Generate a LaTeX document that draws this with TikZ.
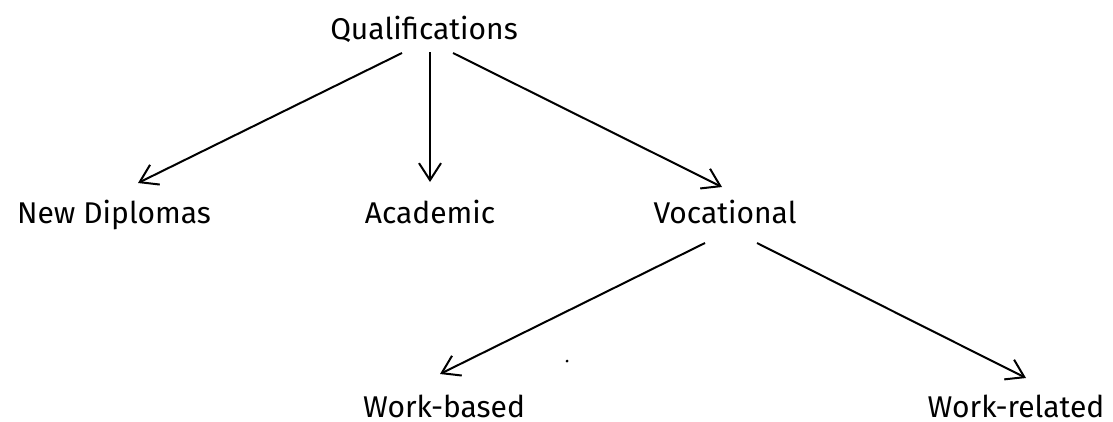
\documentclass[tikz,border=0pt]{standalone}
\usepackage{fontspec}
\setmainfont{Fira Sans}
\usetikzlibrary{arrows.meta}

\tikzset{
	lbl/.style={anchor=base, inner sep=0pt, font=\fontsize{30}{35}\selectfont},
	link/.style={line width=2pt, -{Straight Barb[length=17pt, width=22pt, line width=2pt]}}
}

\begin{document}
\begin{tikzpicture}[x=1pt, y=1pt]
		\useasboundingbox (0,0) rectangle (1113,-421);

		\node[lbl] (qual) at (424,-39) {Qualifications};
		\node[lbl] (dipl) at (114,-223) {New Diplomas};
		\node[lbl] (acad) at (430,-223) {Academic};
		\node[lbl] (voc) at (725,-223) {Vocational};
		\node[lbl] (wbased) at (444,-417) {Work-based};
		\node[lbl] (wrel) at (1016,-417) {Work-related};

		\draw[link] ([xshift=-22pt, yshift=-14pt]qual.base) -- ([xshift=24pt, yshift=40pt]dipl.base);
		\draw[link] ([xshift=6pt, yshift=-13pt]qual.base) -- ([yshift=41pt]acad.base);
		\draw[link] ([xshift=29pt, yshift=-14pt]qual.base) -- ([xshift=-3pt, yshift=36pt]voc.base);
		\draw[link] ([xshift=-20pt, yshift=-20pt]voc.base) -- ([xshift=-4pt, yshift=43pt]wbased.base);
		\draw[link] ([xshift=32pt, yshift=-20pt]voc.base) -- ([xshift=10pt, yshift=39pt]wrel.base);

		\fill (567,-361) circle (1.5pt);
	\end{tikzpicture}
\end{document}
